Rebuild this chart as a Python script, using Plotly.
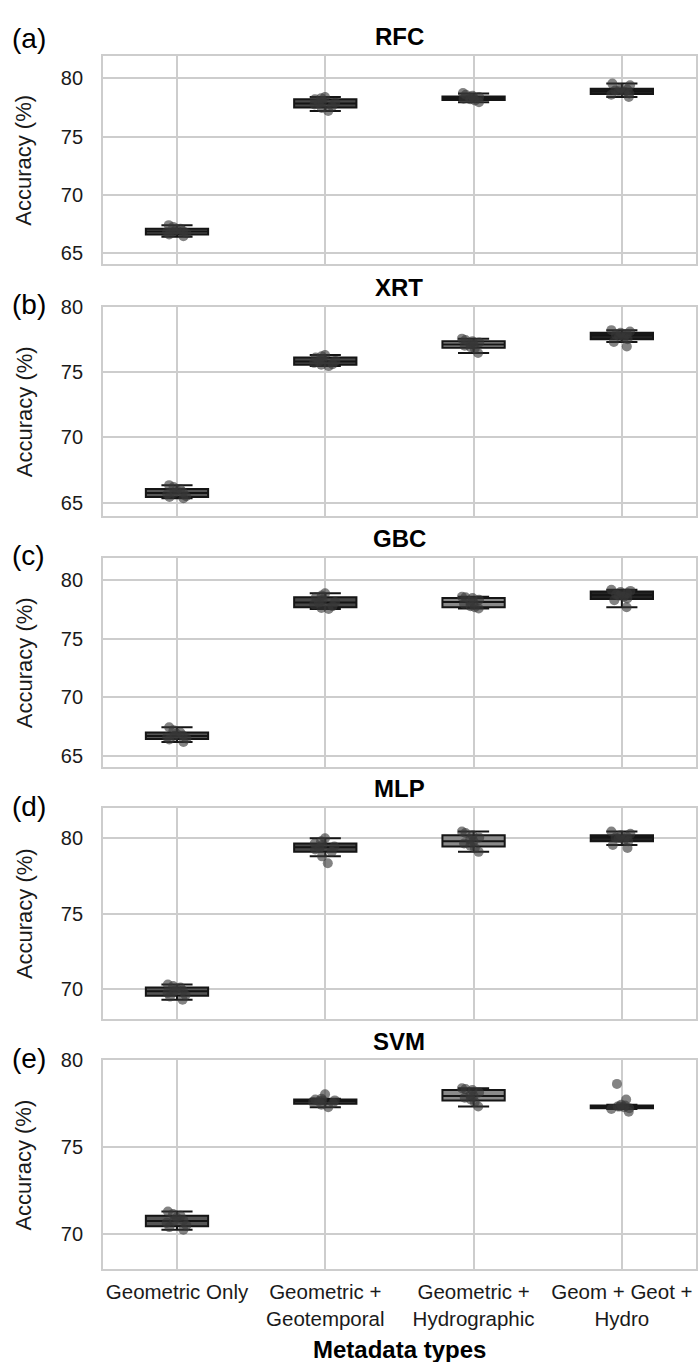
import plotly.graph_objects as go

# ---------------- data ----------------
categories = ["Geometric Only", "Geometric + Geotemporal", "Geometric + Hydrographic", "Geom + Geot + Hydro"]
tick_labels = ["Geometric Only", "Geometric +<br>Geotemporal", "Geometric +<br>Hydrographic", "Geom + Geot +<br>Hydro"]
models = ["RFC", "XRT", "GBC", "MLP", "SVM"]
panel_letters = ["(a)", "(b)", "(c)", "(d)", "(e)"]

rfc_lower = [66.4, 77.2, 77.95, 78.4]
rfc_q1 = [66.6, 77.5, 78.15, 78.65]
rfc_median = [66.85, 77.85, 78.3, 78.9]
rfc_q3 = [67.1, 78.2, 78.45, 79.1]
rfc_upper = [67.4, 78.4, 78.7, 79.55]
rfc_points = [
    [66.45, 66.6, 66.7, 66.8, 66.85, 66.9, 67.0, 67.1, 67.25, 67.4],
    [77.2, 77.45, 77.6, 77.75, 77.85, 77.9, 78.05, 78.2, 78.3, 78.4],
    [77.95, 78.1, 78.2, 78.25, 78.3, 78.35, 78.4, 78.5, 78.6, 78.75],
    [78.4, 78.6, 78.7, 78.85, 78.9, 78.95, 79.05, 79.15, 79.4, 79.55],
]

xrt_lower = [65.35, 75.45, 76.45, 77.3]
xrt_q1 = [65.45, 75.55, 76.85, 77.5]
xrt_median = [65.75, 75.8, 77.1, 77.8]
xrt_q3 = [66.05, 76.1, 77.35, 78.0]
xrt_upper = [66.35, 76.3, 77.55, 78.2]
xrt_points = [
    [65.35, 65.45, 65.5, 65.65, 65.75, 65.8, 65.95, 66.05, 66.2, 66.35],
    [75.45, 75.55, 75.6, 75.7, 75.8, 75.85, 75.95, 76.1, 76.2, 76.3],
    [76.45, 76.8, 76.9, 77.0, 77.1, 77.15, 77.25, 77.35, 77.45, 77.55],
    [76.95, 77.3, 77.5, 77.6, 77.75, 77.85, 77.9, 78.0, 78.1, 78.2],
]

gbc_lower = [66.2, 77.55, 77.6, 77.7]
gbc_q1 = [66.45, 77.7, 77.7, 78.4]
gbc_median = [66.7, 78.1, 78.15, 78.75]
gbc_q3 = [67.0, 78.55, 78.5, 79.05]
gbc_upper = [67.45, 78.9, 78.6, 79.2]
gbc_points = [
    [66.2, 66.4, 66.5, 66.6, 66.7, 66.75, 66.9, 67.0, 67.2, 67.45],
    [77.55, 77.65, 77.8, 77.95, 78.1, 78.15, 78.35, 78.55, 78.7, 78.9],
    [77.6, 77.7, 77.8, 78.0, 78.1, 78.2, 78.35, 78.5, 78.55, 78.6],
    [77.7, 78.3, 78.45, 78.6, 78.7, 78.8, 78.9, 79.0, 79.1, 79.2],
]

mlp_lower = [69.3, 78.8, 79.1, 79.55]
mlp_q1 = [69.55, 79.1, 79.45, 79.8]
mlp_median = [69.85, 79.4, 79.8, 80.05]
mlp_q3 = [70.1, 79.65, 80.2, 80.2]
mlp_upper = [70.3, 80.0, 80.45, 80.45]
mlp_points = [
    [69.3, 69.5, 69.6, 69.75, 69.85, 69.9, 70.0, 70.1, 70.2, 70.3],
    [78.35, 78.8, 79.1, 79.25, 79.35, 79.45, 79.55, 79.65, 79.8, 80.0],
    [79.1, 79.35, 79.5, 79.65, 79.8, 79.9, 80.05, 80.2, 80.35, 80.45],
    [79.35, 79.55, 79.8, 79.9, 80.0, 80.05, 80.1, 80.2, 80.3, 80.45],
]

svm_lower = [70.25, 77.3, 77.35, 77.2]
svm_q1 = [70.45, 77.5, 77.7, 77.25]
svm_median = [70.75, 77.65, 77.95, 77.35]
svm_q3 = [71.05, 77.75, 78.3, 77.4]
svm_upper = [71.3, 77.8, 78.4, 77.45]
svm_points = [
    [70.25, 70.4, 70.5, 70.65, 70.75, 70.8, 70.95, 71.05, 71.15, 71.3],
    [77.3, 77.45, 77.55, 77.6, 77.65, 77.7, 77.7, 77.75, 77.8, 78.05],
    [77.35, 77.6, 77.75, 77.85, 77.95, 78.0, 78.15, 78.3, 78.35, 78.4],
    [77.05, 77.2, 77.25, 77.3, 77.35, 77.35, 77.4, 77.45, 77.75, 78.65],
]

y_ranges = [[64.07, 81.95], [64.0, 80.0], [64.07, 81.95], [68.03, 82.04], [68.0, 80.0]]
y_ticks = [[65, 70, 75, 80], [65, 70, 75, 80], [65, 70, 75, 80], [70, 75, 80], [70, 75, 80]]

# ---------------- style ----------------
W, H = 698, 1362
FONT = "Liberation Sans, Arial, Helvetica, sans-serif"
box_fills = ["#555555", "#474747", "#8a8a8a", "#232323"]
edge = "#151515"
point_color = "rgba(55,55,55,0.62)"
grid = "#cdcdcd"
plot_left, plot_right = 103, 697
panel_px = [(45, 255), (298, 509), (551, 762), (803, 1016), (1058, 1268)]
label_px = [28, 296, 549, 802, 1056]

stats = [
    (rfc_lower, rfc_q1, rfc_median, rfc_q3, rfc_upper, rfc_points),
    (xrt_lower, xrt_q1, xrt_median, xrt_q3, xrt_upper, xrt_points),
    (gbc_lower, gbc_q1, gbc_median, gbc_q3, gbc_upper, gbc_points),
    (mlp_lower, mlp_q1, mlp_median, mlp_q3, mlp_upper, mlp_points),
    (svm_lower, svm_q1, svm_median, svm_q3, svm_upper, svm_points),
]

def py(px):
    return 1 - px / H

fig = go.Figure()
annotations = []
BOXW = 0.42

for i, (lo, q1, med, q3, up, pts) in enumerate(stats):
    n = i + 1
    xa = "x" if n == 1 else f"x{n}"
    ya = "y" if n == 1 else f"y{n}"
    for j, cat in enumerate(categories):
        fig.add_trace(go.Box(
            x=[cat], q1=[q1[j]], median=[med[j]], q3=[q3[j]],
            lowerfence=[lo[j]], upperfence=[up[j]],
            boxpoints=False, width=BOXW, whiskerwidth=0.5,
            fillcolor=box_fills[j], line=dict(color=edge, width=2),
            xaxis=xa, yaxis=ya, showlegend=False, hoverinfo="skip",
        ))
    xs, ys = [], []
    for j, cat in enumerate(categories):
        xs += [cat] * len(pts[j])
        ys += pts[j]
    fig.add_trace(go.Box(
        x=xs, y=ys, boxpoints="all", jitter=0.4, pointpos=0, width=BOXW,
        fillcolor="rgba(0,0,0,0)", line=dict(color="rgba(0,0,0,0)", width=0),
        marker=dict(color=point_color, size=10, line=dict(width=0)),
        xaxis=xa, yaxis=ya, showlegend=False,
    ))

    top, bot = panel_px[i]
    axis_common = dict(showline=True, linecolor=grid, linewidth=1.5, mirror=True,
                       showgrid=True, gridcolor=grid, gridwidth=1.5, zeroline=False)
    fig.layout[f"xaxis{'' if n == 1 else n}"] = dict(
        domain=[plot_left / W, plot_right / W], anchor=ya,
        type="category", categoryorder="array", categoryarray=categories,
        range=[-0.5, 3.5], tickvals=categories, ticktext=tick_labels,
        showticklabels=(n == 5), ticks="", ticklabelstandoff=4,
        tickfont=dict(size=20.5, color="#1a1a1a", family=FONT), **axis_common)
    fig.layout[f"yaxis{'' if n == 1 else n}"] = dict(
        domain=[py(bot), py(top)], anchor=xa, range=y_ranges[i],
        tickvals=y_ticks[i], ticks="", ticklabelstandoff=14,
        tickfont=dict(size=20, color="#1a1a1a", family=FONT), **axis_common)

    annotations.append(dict(text=f"<b>{models[i]}</b>", xref="paper", yref="paper",
                            x=(plot_left + plot_right) / 2 / W, y=py(top - 19),
                            xanchor="center", yanchor="middle", showarrow=False,
                            font=dict(size=24, color="#000000", family=FONT)))
    annotations.append(dict(text=panel_letters[i], xref="paper", yref="paper",
                            x=10 / W, y=py(label_px[i]), xanchor="left", yanchor="middle",
                            showarrow=False, font=dict(size=28, color="#000000", family=FONT)))
    annotations.append(dict(text="Accuracy (%)", xref="paper", yref="paper",
                            x=24 / W, y=py((top + bot) / 2), xanchor="center", yanchor="middle",
                            textangle=-90, showarrow=False,
                            font=dict(size=22, color="#1a1a1a", family=FONT)))

annotations.append(dict(text="<b>Metadata types</b>", xref="paper", yref="paper",
                        x=(plot_left + plot_right) / 2 / W, y=py(1349),
                        xanchor="center", yanchor="middle", showarrow=False,
                        font=dict(size=24, color="#000000", family=FONT)))

fig.update_layout(
    width=W, height=H, margin=dict(l=0, r=0, t=0, b=0),
    paper_bgcolor="white", plot_bgcolor="white",
    boxmode="overlay", showlegend=False, annotations=annotations,
    font=dict(family=FONT),
)

fig.write_html("out.html")
